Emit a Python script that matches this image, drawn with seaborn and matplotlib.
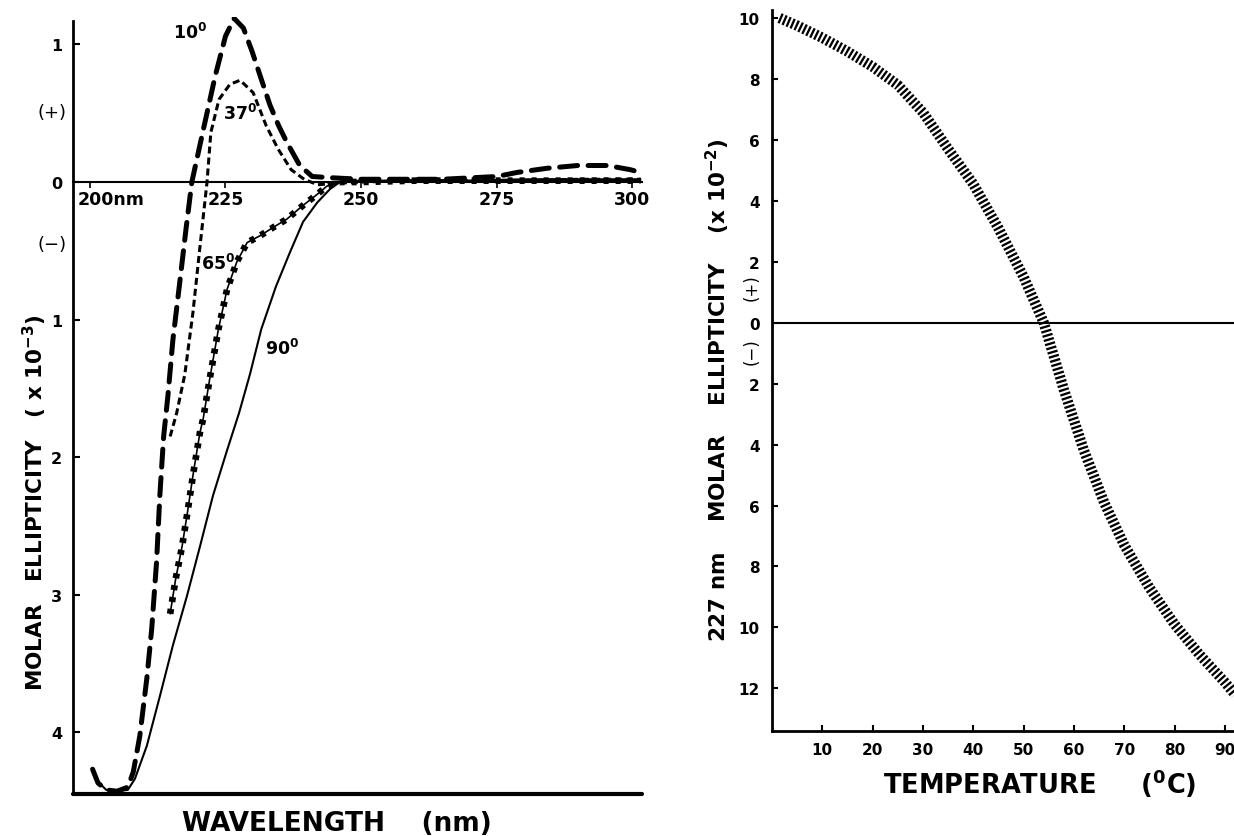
import numpy as np
import pandas as pd
import seaborn as sns
import matplotlib.pyplot as plt
from matplotlib.transforms import ScaledTranslation

# CD spectra (left panel), in units of 10^3
wl_10 = [200.5, 201.5, 203, 205, 207, 208, 209.2, 210.5, 211.4, 212.3, 212.9, 213.6, 214.4, 215.3,
         216.6, 217.7, 218.8, 220.8, 223.1, 225.0, 226.6, 228.3, 229.9, 231.5, 233.2, 234.8, 236.3,
         238.7, 241.0, 245, 250, 255, 260, 265, 270, 275, 278.8, 284.3, 289.9, 295.4, 299.6, 301.5]
cd_10 = [-4.27, -4.37, -4.42, -4.43, -4.40, -4.29, -4.03, -3.61, -3.25, -2.76, -2.28, -1.85, -1.55, -1.15,
         -0.72, -0.35, 0.0, 0.36, 0.77, 1.06, 1.19, 1.12, 0.95, 0.76, 0.56, 0.41, 0.29,
         0.12, 0.04, 0.03, 0.02, 0.02, 0.02, 0.02, 0.03, 0.04, 0.07, 0.10, 0.12, 0.12, 0.09, 0.07]

wl_37 = [214.8, 216.0, 217.5, 219.0, 220.3, 221.6, 222.3, 223.8, 225.8, 227.7, 230.1, 232.5, 234.7,
         237.1, 239.5, 242, 245, 250, 260, 270, 280, 290, 301.5]
cd_37 = [-1.85, -1.68, -1.40, -0.95, -0.47, 0.0, 0.36, 0.60, 0.71, 0.74, 0.65, 0.41, 0.24,
         0.09, 0.02, -0.02, -0.01, 0.0, 0.01, 0.01, 0.01, 0.02, 0.02]

wl_65 = [214.8, 215.8, 217.0, 218.0, 219.1, 220.3, 220.9, 222.1, 223.7, 225.3, 227.1, 229.0, 231.4,
         233.8, 236.3, 239.3, 241.9, 243.7, 246, 250, 260, 270, 280, 290, 301.5]
cd_65 = [-3.14, -2.89, -2.65, -2.40, -2.11, -1.82, -1.72, -1.43, -1.07, -0.78, -0.58, -0.44, -0.39,
         -0.33, -0.27, -0.17, -0.09, -0.03, 0.0, 0.0, 0.01, 0.01, 0.01, 0.01, 0.01]

wl_90 = [201.5, 203, 205, 207, 208.3, 210.5, 212.9, 215.3, 217.9, 220.3, 222.7, 225.3, 227.5, 229.5,
         231.6, 234.3, 236.9, 239.3, 241.9, 244.3, 246.1, 250, 260, 270, 280, 290, 301.5]
cd_90 = [-4.36, -4.42, -4.43, -4.42, -4.34, -4.10, -3.74, -3.37, -3.01, -2.65, -2.28, -1.95, -1.68, -1.40,
         -1.07, -0.76, -0.51, -0.29, -0.15, -0.05, 0.0, 0.01, 0.01, 0.01, 0.02, 0.02, 0.02]

# melting curve at 227 nm (right panel), units of 10^2
temperature = [1.5, 5, 10, 15, 20, 25, 30, 35, 40, 45, 50, 54, 58, 62, 66, 70, 75, 80, 85, 90, 92]
ellip_227 = [10.0, 9.75, 9.35, 8.9, 8.4, 7.8, 6.9, 5.7, 4.55, 3.1, 1.5, 0.0, -2.2, -4.2, -5.9,
             -7.3, -8.7, -9.9, -10.9, -11.8, -12.2]

curve_labels = ['10$^{0}$', '37$^{0}$', '65$^{0}$', '90$^{0}$']
left_xticks = [200, 225, 250, 275, 300]
left_xticklabels = ['200nm', '225', '250', '275', '300']
left_yticks = [1, 0, -1, -2, -3, -4]
left_yticklabels = ['1', '0', '1', '2', '3', '4']
right_xticks = [10, 20, 30, 40, 50, 60, 70, 80, 90]
right_yticks = [10, 8, 6, 4, 2, 0, -2, -4, -6, -8, -10, -12]
right_yticklabels = ['10', '8', '6', '4', '2', '0', '2', '4', '6', '8', '10', '12']

spectra = pd.concat([
    pd.DataFrame({'wavelength': wl_10, 'ellipticity': cd_10, 'temp': 10}),
    pd.DataFrame({'wavelength': wl_37, 'ellipticity': cd_37, 'temp': 37}),
    pd.DataFrame({'wavelength': wl_65, 'ellipticity': cd_65, 'temp': 65}),
    pd.DataFrame({'wavelength': wl_90, 'ellipticity': cd_90, 'temp': 90}),
], ignore_index=True)
melt = pd.DataFrame({'temperature': temperature, 'ellipticity': ellip_227})

sns.set_style('ticks')
plt.rcParams['font.family'] = ['DejaVu Sans']
plt.rcParams['font.weight'] = 'bold'
plt.rcParams['axes.labelweight'] = 'bold'
plt.rcParams['mathtext.default'] = 'bf'
for key in ['text.color', 'axes.labelcolor', 'xtick.color', 'ytick.color', 'axes.edgecolor']:
    plt.rcParams[key] = 'black'

fig = plt.figure(figsize=(12.34, 8.37), dpi=100)
ax1 = fig.add_axes([0.0592, 0.0502, 0.4611, 0.9283])
ax2 = fig.add_axes([0.6256, 0.1254, 0.3752, 0.8610])

# ---- left panel: spectra at four temperatures
line_styles = {
    10: dict(linewidth=3.6, linestyle=(0, (3.6, 2.1)), dash_capstyle='round'),
    37: dict(linewidth=2.2, linestyle=(0, (2.3, 1.3)), dash_capstyle='butt'),
    65: dict(linewidth=1.2, linestyle='-'),
    90: dict(linewidth=1.5, linestyle='-'),
}
for t, style in line_styles.items():
    sub = spectra[spectra['temp'] == t]
    sns.lineplot(data=sub, x='wavelength', y='ellipticity', ax=ax1, color='black',
                 estimator=None, sort=False, **style)
# beads on the 65 degree trace
sub65 = spectra[spectra['temp'] == 65]
sns.lineplot(data=sub65, x='wavelength', y='ellipticity', ax=ax1, color='black',
             estimator=None, sort=False, linewidth=4.8, linestyle=(0, (0.75, 1.05)), dash_capstyle='butt')

ax1.set_xlim(196.9, 301.8)
ax1.set_ylim(-4.45, 1.2)
ax1.spines['top'].set_visible(False)
ax1.spines['right'].set_visible(False)
ax1.spines['bottom'].set_position(('data', 0))
ax1.spines['bottom'].set_linewidth(1.5)
ax1.spines['left'].set_linewidth(2)
ax1.spines['left'].set_bounds(-4.45, 1.17)
ax1.plot([0, 1], [0, 0], transform=ax1.transAxes, color='black', lw=3, clip_on=False)

ax1.set_xticks(left_xticks)
ax1.set_xticklabels(left_xticklabels)
ax1.set_yticks(left_yticks)
ax1.set_yticklabels(left_yticklabels)
ax1.tick_params(axis='x', direction='out', length=4, width=1.2, pad=2, labelsize=12.5)
ax1.tick_params(axis='y', direction='in', length=5, width=1.5, pad=8, labelsize=11.5)
first = ax1.get_xticklabels()[0]
first.set_horizontalalignment('left')
first.set_transform(first.get_transform() + ScaledTranslation(-0.12, 0, fig.dpi_scale_trans))

ax1.set_xlabel('WAVELENGTH    (nm)', fontsize=19, va='center')
ax1.xaxis.set_label_coords(0.464, -0.037)
ax1.set_ylabel('MOLAR   ELLIPTICITY   ( x 10$^{-3}$)', fontsize=15.5, va='center')
ax1.yaxis.set_label_coords(-0.067, 0.376)

for txt, (x, y) in zip(curve_labels, [(218.5, 1.09), (227.7, 0.50), (223.6, -0.59), (235.4, -1.21)]):
    ax1.text(x, y, txt, fontsize=12.5, ha='center', va='center')
ax1.text(-0.037, 0.51, '(+)', transform=ax1.get_yaxis_transform(), fontsize=13,
         fontweight='normal', ha='center', va='center')
ax1.text(-0.037, -0.45, '(\u2212)', transform=ax1.get_yaxis_transform(), fontsize=13,
         fontweight='normal', ha='center', va='center')

# ---- right panel: 227 nm melting curve
sns.lineplot(data=melt, x='temperature', y='ellipticity', ax=ax2, color='black',
             estimator=None, sort=False, linewidth=7.5, linestyle=(0, (0.22, 0.2)),
             dash_capstyle='butt')
ax2.axhline(0, color='black', lw=1.5)
ax2.set_xlim(0, 92)
ax2.set_ylim(-13.4, 10.25)
ax2.spines['top'].set_visible(False)
ax2.spines['right'].set_visible(False)
ax2.spines['bottom'].set_linewidth(2)
ax2.spines['left'].set_linewidth(2)
ax2.set_xticks(right_xticks)
ax2.set_yticks(right_yticks)
ax2.set_yticklabels(right_yticklabels)
ax2.tick_params(axis='x', direction='in', length=4.5, width=1.5, pad=8, labelsize=11)
ax2.tick_params(axis='y', direction='in', length=4.5, width=1.5, pad=9, labelsize=11)

ax2.set_xlabel('TEMPERATURE     ($^{0}$C)', fontsize=18.5, va='center')
ax2.xaxis.set_label_coords(0.579, -0.072)
ax2.set_ylabel('227 nm    MOLAR    ELLIPTICITY    (x 10$^{-2}$)', fontsize=15.5, va='center')
ax2.yaxis.set_label_coords(-0.117, 0.475)
ax2.text(-0.045, 1.18, '(+)', transform=ax2.get_yaxis_transform(), fontsize=12,
         fontweight='normal', rotation=90, ha='center', va='center')
ax2.text(-0.045, -0.9, '(\u2212)', transform=ax2.get_yaxis_transform(), fontsize=12,
         fontweight='normal', rotation=90, ha='center', va='center')

fig.savefig('out.png', dpi=100)
